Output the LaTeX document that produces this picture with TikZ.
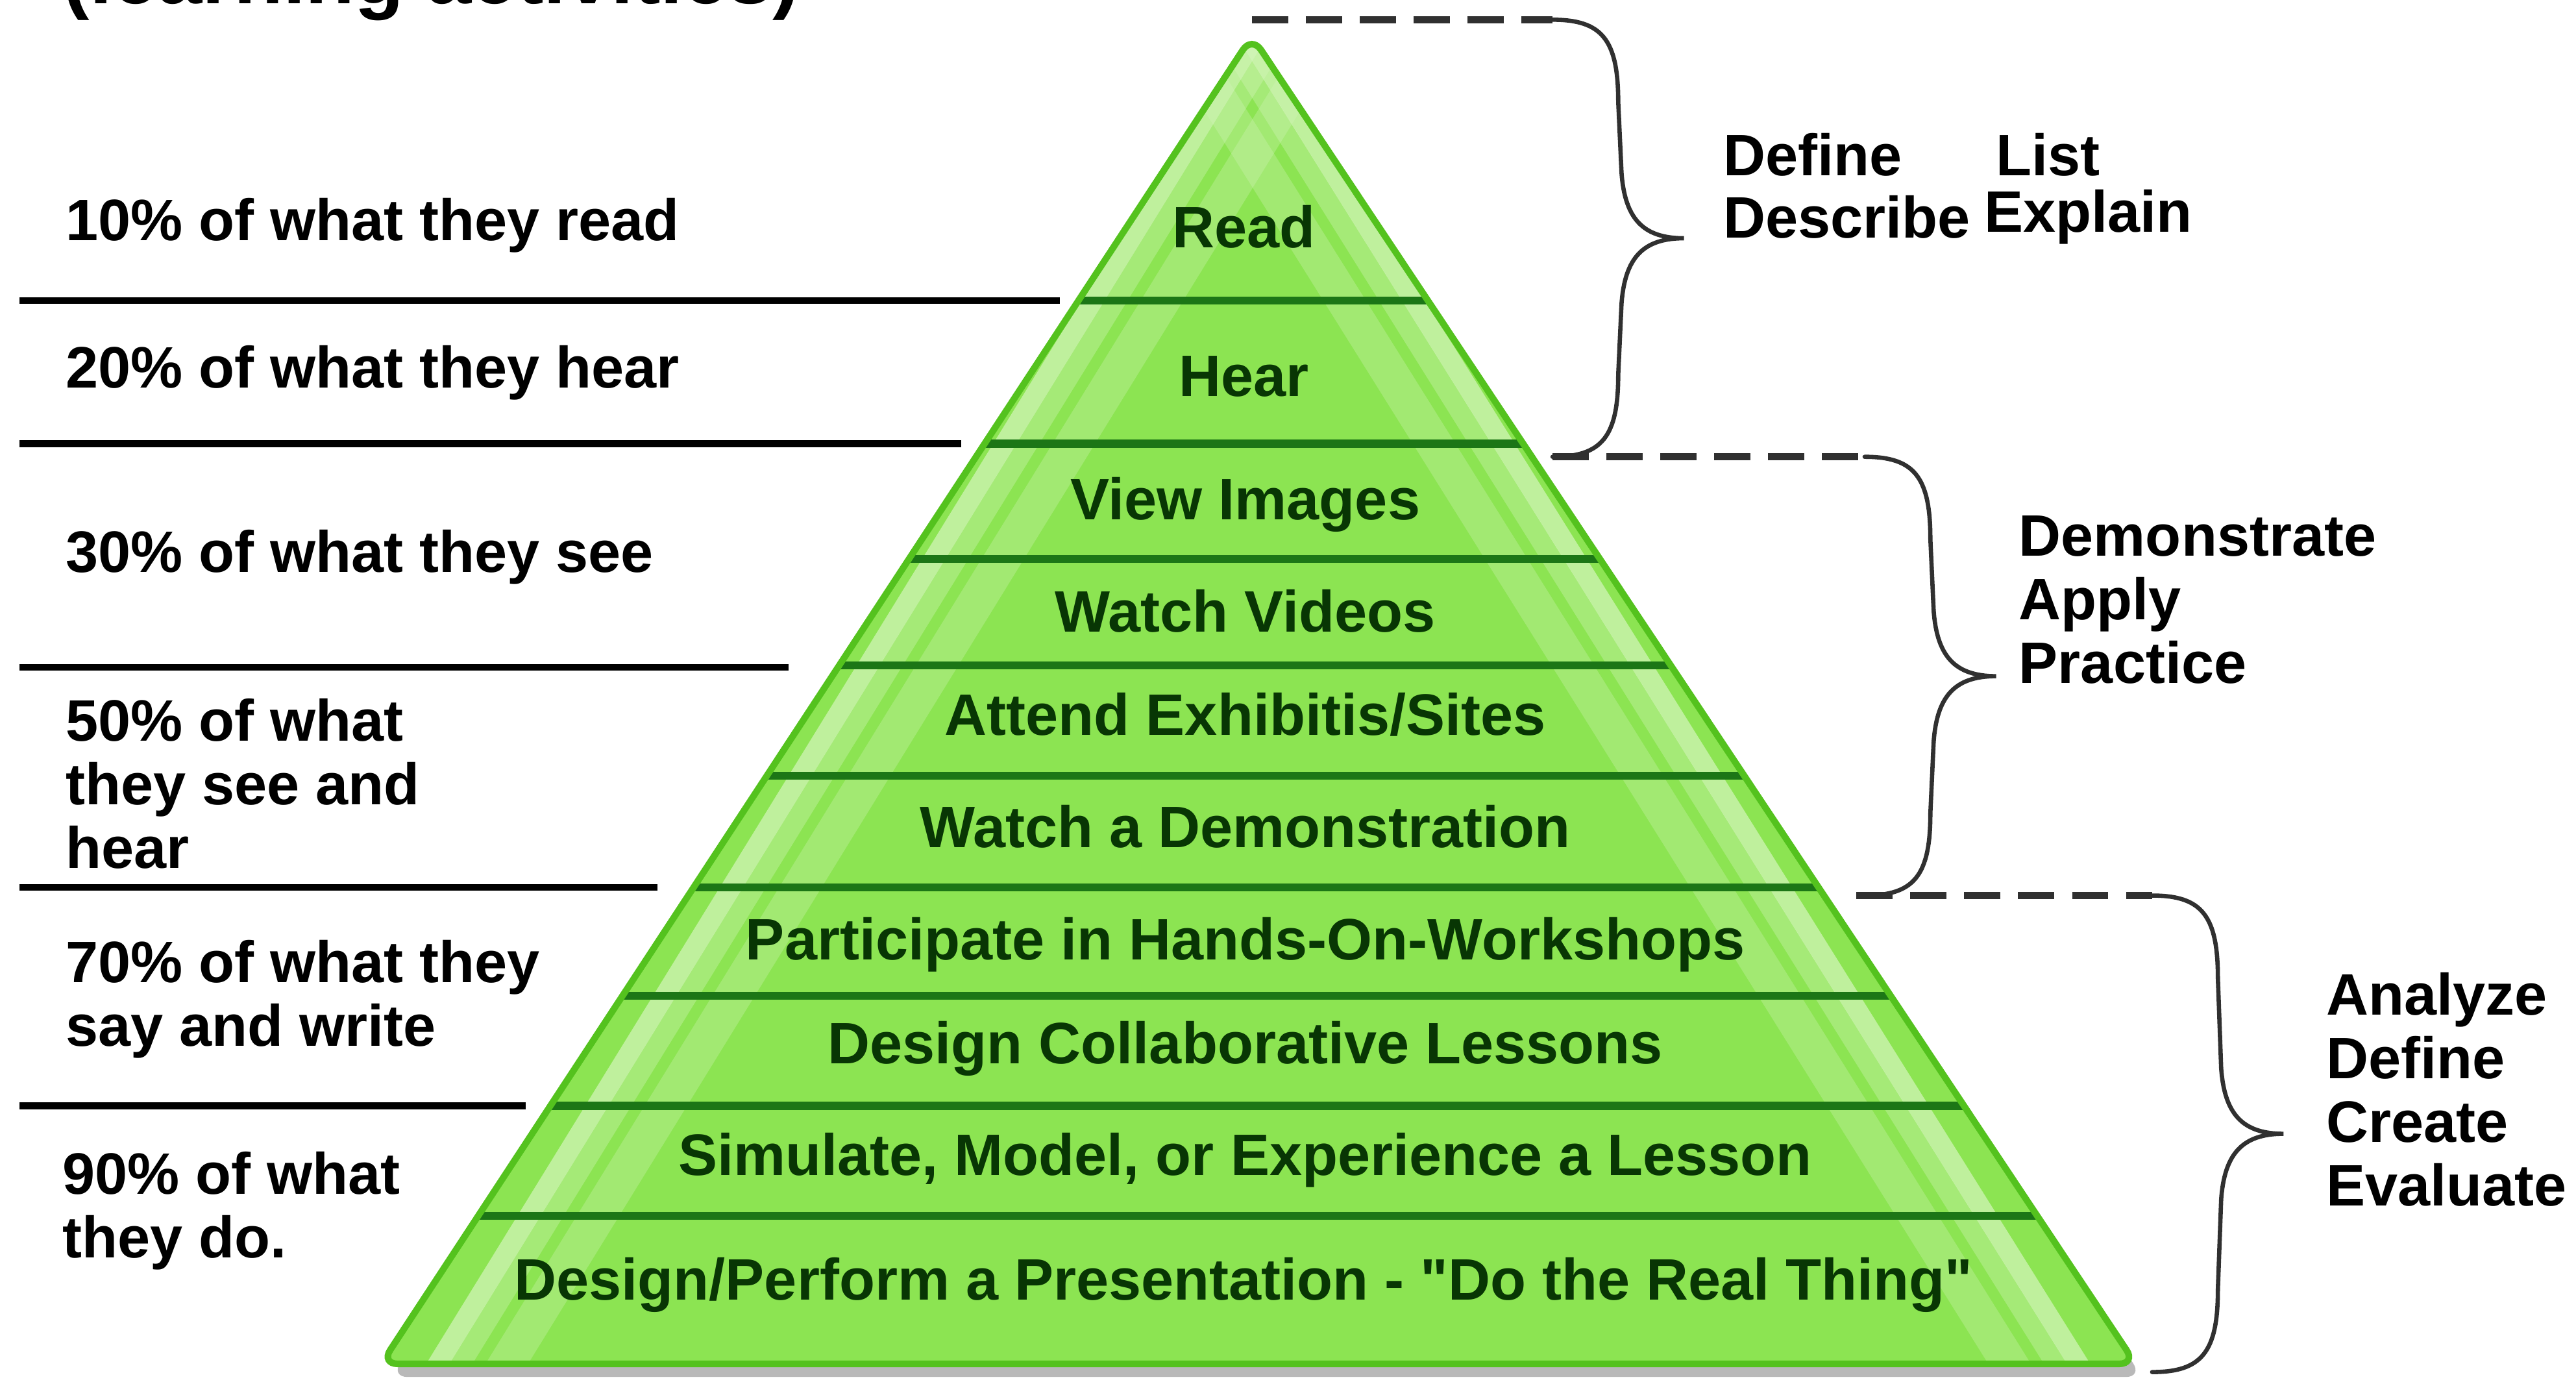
\documentclass[tikz,border=0pt]{standalone}
\usepackage{fontspec}
\setmainfont{Liberation Sans}
\usetikzlibrary{positioning}

\definecolor{leaf}{RGB}{140,228,82}
\definecolor{leafrim}{RGB}{84,194,30}
\definecolor{leaflight}{RGB}{214,246,190}
\definecolor{bandline}{RGB}{28,118,22}
\definecolor{bandtext}{RGB}{8,54,4}
\definecolor{bracegray}{RGB}{48,48,48}

\tikzset{
  pct/.style={anchor=west, align=left, font=\bfseries\fontsize{25.3}{27.6}\selectfont},
  verb/.style={anchor=west, align=left, font=\bfseries\fontsize{25.3}{27.6}\selectfont},
  layer/.style={font=\bfseries\fontsize{25.3}{27.6}\selectfont, text=bandtext},
  rule/.style={line width=0.1cm},
  guide/.style={line width=0.11cm, bracegray, dash pattern=on 0.55cm off 0.27cm},
  curly/.style={line width=0.065cm, bracegray, line cap=round},
}

\begin{document}
\begin{tikzpicture}[x=0.025cm, y=-0.025cm]
  \useasboundingbox (0,0) rectangle (1568,842);

  % title, cut by the page edge
  \node[anchor=base west, inner sep=0pt, font=\bfseries\fontsize{35}{40}\selectfont] (title) at (38,2) {(learning activities)};

  % pyramid
  \coordinate (apex) at (762,22);
  \coordinate (bl) at (232,830);
  \coordinate (br) at (1300,830);
  \fill[gray!55, rounded corners=0.25cm] (765,30) -- (1304,838) -- (238,838) -- cycle;
  \fill[leaf, rounded corners=0.25cm] (apex) -- (br) -- (bl) -- cycle;
  \begin{scope}
    \clip[rounded corners=0.25cm] (apex) -- (br) -- (bl) -- cycle;
    \foreach \d/\w/\o in {16/0.3cm/0.7, 30/0.3cm/0.35, 58/0.55cm/0.3} {
      \draw[leaflight, opacity=\o, line width=\w] (762+\d,0) -- (232+\d,860);
      \draw[leaflight, opacity=\o, line width=\w] (762-\d,0) -- (1300-\d,860);
    }
    \foreach \y in {183,270,340,405,472,540,606,673,740}
      \draw[bandline, line width=0.12cm] (200,\y) -- (1350,\y);
  \end{scope}
  \draw[leafrim, line width=0.1cm, rounded corners=0.25cm] (apex) -- (br) -- (bl) -- cycle;

  % layer labels
  \node[layer] (read) at (757,138) {Read};
  \node[layer] (hear) at (757,229) {Hear};
  \node[layer] (images) at (758,307) {View Images};
  \node[layer] (videos) at (758,372) {Watch Videos};
  \node[layer] (exhibits) at (758,435) {Attend Exhibitis/Sites};
  \node[layer] (demo) at (758,503) {Watch a Demonstration};
  \node[layer] (workshops) at (758,575) {Participate in Hands-On-Workshops};
  \node[layer] (lessons) at (758,638) {Design Collaborative Lessons};
  \node[layer] (simulate) at (758,706) {Simulate, Model, or Experience a Lesson};
  \node[layer] (perform) at (757,782) {Design/Perform a Presentation - \textquotedbl Do the Real Thing\textquotedbl};

  % left column
  \foreach \y/\e in {183/645, 270/585, 406/480, 540/400, 673/320}
    \draw[rule] (12,\y) -- (\e,\y);
  \node[pct] (pct10) at (35,137) {10\% of what they read};
  \node[pct] (pct20) at (35,227) {20\% of what they hear};
  \node[pct] (pct30) at (35,339) {30\% of what they see};
  \node[pct] (pct50) at (35,477) {50\% of what\\they see and\\hear};
  \node[pct] (pct70) at (35,608) {70\% of what they\\say and write};
  \node[pct] (pct90) at (33,737) {90\% of what\\they do.};

  % braces
  \foreach \s/\a/\t/\b in {762/945/12/278, 945/1135/278/545, 1130/1310/545/835} {
    \coordinate (from) at (\s,\t);
    \coordinate (top) at (\a,\t);
    \coordinate (bot) at (\a,\b);
    \draw[guide] (from) -- (top);
    \draw[curly] (top) .. controls ({\a+30},\t) and ({\a+40},{\t+12}) .. ({\a+40},{\t+50})
      -- ({\a+42},{(\t+\b)/2-40})
      .. controls ({\a+44},{(\t+\b)/2-12}) and ({\a+55},{(\t+\b)/2}) .. ({\a+80},{(\t+\b)/2})
      .. controls ({\a+55},{(\t+\b)/2}) and ({\a+44},{(\t+\b)/2+12}) .. ({\a+42},{(\t+\b)/2+40})
      -- ({\a+40},{\b-50})
      .. controls ({\a+40},{\b-12}) and ({\a+30},\b) .. (bot);
  }

  % right column
  \node[verb] (define) at (1044,94) {Define};
  \node[verb] (list) at (1210,94) {List};
  \node[verb] (describe) at (1044,132) {Describe};
  \node[verb] (explain) at (1203,132) {Explain};
  \node[verb] (apply) at (1224,365) {Demonstrate\\Apply\\Practice};
  \node[verb] (evaluate) at (1411,663) {Analyze\\Define\\Create\\Evaluate};
\end{tikzpicture}
\end{document}
